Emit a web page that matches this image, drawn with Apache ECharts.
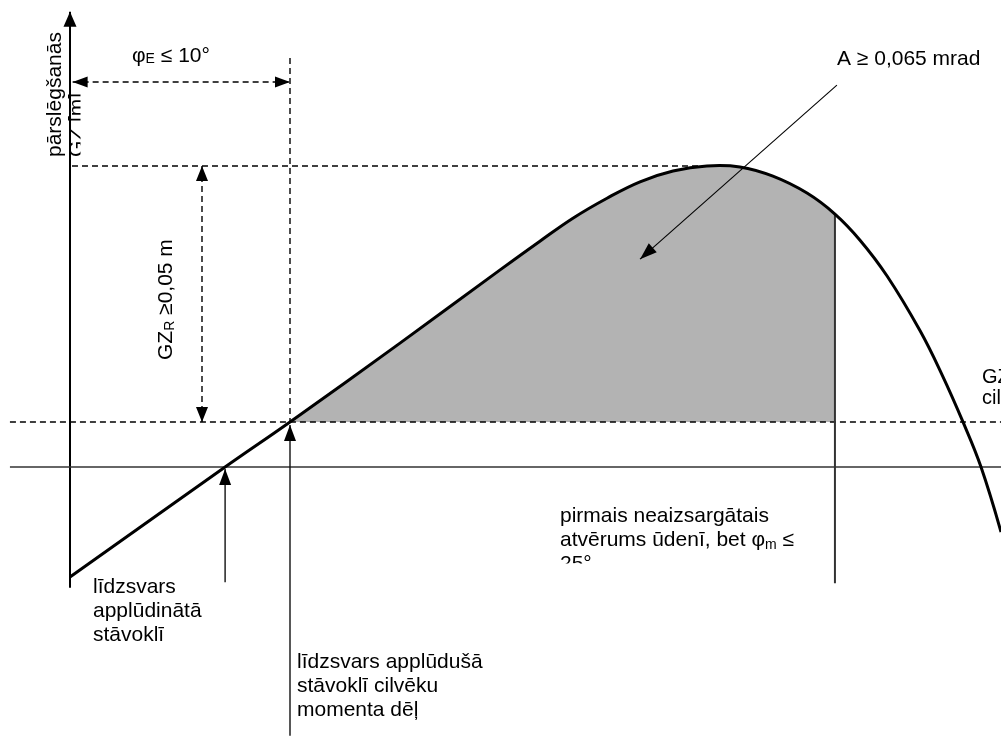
<!DOCTYPE html>
<html><head><meta charset="utf-8">
<script src="https://cdn.jsdelivr.net/npm/echarts@6/dist/echarts.min.js"></script>
<style>html,body{margin:0;padding:0;background:#fff}#c{width:1001px;height:737px}</style>
</head><body><div id="c"></div>
<script>
// heel angle φ (deg) and righting lever GZ (cm)
const phi = [0, 7.05, 10, 15, 19.55, 21.36, 22.86, 24.41, 25.91, 27.41, 28.95, 30.45, 31.95, 33.5, 34.77, 35.91, 37.14, 38.64, 39.64, 40.59, 41.41, 42.32];
const gz  = [-2.15, 0.00, 0.88, 2.42, 3.85, 4.41, 4.86, 5.25, 5.57, 5.78, 5.88, 5.86, 5.68, 5.35, 4.94, 4.43, 3.73, 2.66, 1.80, 0.88, 0.00, -1.27];
const heelLevel = 0.88;   // GZ level of the persons' heeling moment
const gzMax = 5.88;       // maximum GZ
const phiE = 10;          // equilibrium with persons' moment
const phiFlood = 7.05;    // equilibrium in flooded condition
const phiM = 34.77;       // first unprotected opening
const gzAtPhiM = 4.94;
// annotation segments [x1, y1, x2, y2] in (φ, GZ) units
const segAxisY   = [0, -2.36, 0, 8.89];
const segZero    = [-2.73, 0, 42.32, 0];
const segHeel    = [-2.73, heelLevel, 42.32, heelLevel];
const segTop     = [0.09, gzMax, 29.0, gzMax];
const segPhiE    = [phiE, 7.99, phiE, heelLevel];
const segPhiEArr = [0.12, 7.52, phiE, 7.52];
const segGzrArr  = [6.0, gzMax, 6.0, heelLevel];
const segFlood   = [phiFlood, -2.25, phiFlood, -0.04];
const segPersons = [phiE, -5.25, phiE, 0.82];
const segPhiM    = [phiM, gzAtPhiM, phiM, -2.27];
const segArea    = [34.86, 7.46, 25.91, 4.06];

const segs = [segAxisY, segZero, segHeel, segTop, segPhiE, segPhiEArr, segGzrArr, segFlood, segPersons, segPhiM, segArea];
const segStyle = [
  {color:'#000', width:2, end:[15,6.5]},
  {color:'#333', width:1.5},
  {color:'#000', width:1.4, dash:[6,4]},
  {color:'#000', width:1.4, dash:[6,4]},
  {color:'#000', width:1.4, dash:[6,4]},
  {color:'#000', width:1.4, dash:[6,4], start:[15,5.5], end:[15,5.5]},
  {color:'#000', width:1.4, dash:[6,4], start:[15,6], end:[15,6]},
  {color:'#111', width:1.4, end:[16,6]},
  {color:'#111', width:1.4, end:[16,6]},
  {color:'#333', width:2},
  {color:'#000', width:1.1, end:[17,6]}
];

// shaded area polygon (between curve and heeling level, φE..φm)
const poly = [[phiE, heelLevel]];
for (let i = 0; i < phi.length; i++) if (phi[i] >= phiE && phi[i] <= phiM) poly.push([phi[i], gz[i]]);
poly.push([phiM, heelLevel]);

function headPts(tip, from, L, W) {
  const dx = tip[0]-from[0], dy = tip[1]-from[1];
  const len = Math.hypot(dx, dy) || 1;
  const ux = dx/len, uy = dy/len, nx = -uy, ny = ux;
  const bx = tip[0]-ux*L, by = tip[1]-uy*L;
  return [[tip[0],tip[1]],[bx+nx*W, by+ny*W],[bx-nx*W, by-ny*W]];
}

const FONT = '"Liberation Sans", Arial, sans-serif';
const chart = echarts.init(document.getElementById('c'), null, {renderer:'canvas'});
chart.setOption({
  animation:false,
  backgroundColor:'#fff',
  grid:{left:0, right:0, top:0, bottom:0},
  xAxis:{type:'value', min:-70/22, max:931/22, show:false},
  yAxis:{type:'value', min:-270/51.2, max:467/51.2, show:false},
  series:[
    {
      type:'custom', z:1, silent:true,
      data:[[phiE, heelLevel]],
      renderItem:function(params, api){
        return {type:'polygon', shape:{points:poly.map(p=>api.coord(p))}, style:{fill:'#b3b3b3'}};
      }
    },
    {
      type:'custom', z:2, silent:true,
      data:segs,
      encode:{x:[0,2], y:[1,3]},
      renderItem:function(params, api){
        const s = segStyle[params.dataIndex];
        const p1 = api.coord([api.value(0), api.value(1)]);
        const p2 = api.coord([api.value(2), api.value(3)]);
        const ch = [{type:'line', shape:{x1:p1[0],y1:p1[1],x2:p2[0],y2:p2[1]},
          style:{stroke:s.color, lineWidth:s.width, lineDash:s.dash||null, fill:null}}];
        if (s.end) ch.push({type:'polygon', shape:{points:headPts(p2,p1,s.end[0],s.end[1])}, style:{fill:'#000'}});
        if (s.start) ch.push({type:'polygon', shape:{points:headPts(p1,p2,s.start[0],s.start[1])}, style:{fill:'#000'}});
        return {type:'group', children:ch};
      }
    },
    {
      type:'custom', z:3, silent:true,
      data:phi.map((p,i)=>[p, gz[i]]),
      renderItem:function(params, api){
        if (params.dataIndex !== 0) return null;
        const pts = phi.map((p,i)=>api.coord([p, gz[i]]));
        return {type:'polyline', shape:{points:pts, smooth:0.4}, style:{stroke:'#000', lineWidth:3, fill:null, lineJoin:'round'}};
      }
    }
  ],
  graphic:[
    {type:'text', x:55.5, y:157, rotation:Math.PI/2, style:{text:'pārslēgšanās', fontSize:21, fontFamily:FONT, fill:'#000', textAlign:'left', textVerticalAlign:'middle'}},
    {type:'text', x:77, y:157, rotation:Math.PI/2, style:{text:'GZ [m]', fontSize:21, fontFamily:FONT, fill:'#000', textAlign:'left', textVerticalAlign:'middle'}},
    {type:'rect', z:100, shape:{x:80.5, y:88, width:20, height:74}, style:{fill:'#fff'}},
    {type:'text', x:166.5, y:360, rotation:Math.PI/2, style:{text:'GZ{s|R} ≥0,05 m', fontSize:21, fontFamily:FONT, fill:'#000', textAlign:'left', textVerticalAlign:'middle', rich:{s:{fontSize:14, fontFamily:FONT, fill:'#000', verticalAlign:'bottom'}}}},
    {type:'text', x:132, y:56, style:{text:'φ{s|E} ≤ 10°', fontSize:21, fontFamily:FONT, fill:'#000', textAlign:'left', textVerticalAlign:'middle', rich:{s:{fontSize:14, fontFamily:FONT, fill:'#000', verticalAlign:'bottom'}}}},
    {type:'text', x:837, y:59, style:{text:'A ≥ 0,065 mrad', fontSize:21, fontFamily:FONT, fill:'#000', textAlign:'left', textVerticalAlign:'middle'}},
    {type:'text', x:982, y:377, style:{text:'GZ', fontSize:20, fontFamily:FONT, fill:'#000', textAlign:'left', textVerticalAlign:'middle'}},
    {type:'text', x:982, y:398, style:{text:'cil', fontSize:20, fontFamily:FONT, fill:'#000', textAlign:'left', textVerticalAlign:'middle'}},
    {type:'text', x:560, y:504.5, style:{text:'pirmais neaizsargātais\natvērums ūdenī, bet φ{s|m} ≤\n25°', fontSize:21, lineHeight:24, fontFamily:FONT, fill:'#000', textAlign:'left', textVerticalAlign:'top', rich:{s:{fontSize:14, fontFamily:FONT, fill:'#000', verticalAlign:'bottom', lineHeight:24}}}},
    {type:'rect', z:100, shape:{x:555, y:563.5, width:90, height:25}, style:{fill:'#fff'}},
    {type:'text', x:93, y:575, style:{text:'līdzsvars\napplūdinātā\nstāvoklī', fontSize:21, lineHeight:24, fontFamily:FONT, fill:'#000', textAlign:'left', textVerticalAlign:'top'}},
    {type:'text', x:297, y:650, style:{text:'līdzsvars applūdušā\nstāvoklī cilvēku\nmomenta dēļ', fontSize:21, lineHeight:24, fontFamily:FONT, fill:'#000', textAlign:'left', textVerticalAlign:'top'}}
  ]
});
</script></body></html>
